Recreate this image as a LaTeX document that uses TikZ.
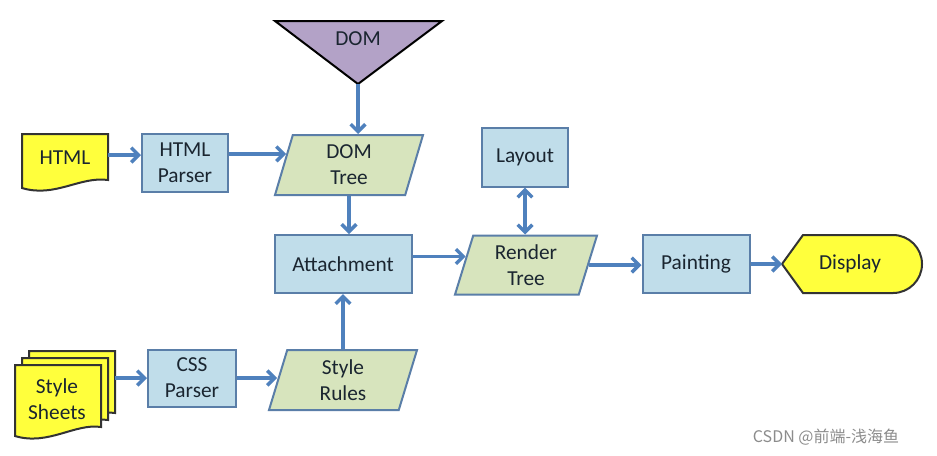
\documentclass[tikz,border=0pt]{standalone}
\usepackage{fontspec}
\setmainfont{Carlito}
\newfontfamily\cjkfont{Noto Sans CJK SC}
\usetikzlibrary{shapes.geometric,arrows.meta}
\newlength\pxl
\setlength\pxl{0.75pt}
\definecolor{boxfill}{HTML}{C0DDEA}
\definecolor{boxline}{HTML}{5A7EA8}
\definecolor{parfill}{HTML}{D7E4BD}
\definecolor{arrowc}{HTML}{4F81BD}
\definecolor{docfill}{HTML}{FFFF3C}
\definecolor{docline}{HTML}{333333}
\definecolor{trifill}{HTML}{B3A2C7}
\definecolor{txt}{HTML}{1A2530}
\tikzset{
  lbl/.style={font=\fontsize{16}{19.5}\selectfont, text=txt, align=center, inner sep=0pt},
  procbox/.style={lbl, rectangle, draw=boxline, fill=boxfill, line width=1.5pt},
  databox/.style={lbl, trapezium, trapezium left angle=66, trapezium right angle=114,
     trapezium stretches body, draw=boxline, fill=parfill, line width=1.5pt},
  docshape/.style={draw=docline, fill=docfill, line width=1.5pt},
  arr/.style={draw=arrowc, line width=2.6pt, -{Straight Barb[length=5.5pt,width=11pt]}},
  darr/.style={draw=arrowc, line width=2.6pt, {Straight Barb[length=5.5pt,width=11pt]}-{Straight Barb[length=5.5pt,width=11pt]}},
  ghost/.style={rectangle, draw=none, inner sep=0pt, outer sep=0pt}
}
\begin{document}
\begin{tikzpicture}[x=0.75pt,y=-0.75pt]
\useasboundingbox (0,0) rectangle (937,455);
\fill[white] (0,0) rectangle (937,455);

% DOM triangle
\draw[fill=trifill, draw=black, line width=1.5pt] (275,21) -- (442,21) -- (358,84) -- cycle;
\node[lbl] (dom) at (358,39) {DOM};
\coordinate (domtip) at (358,84);

% HTML document
\draw[docshape] (22,134) -- (108,134) -- (108,180) .. controls (80,176) and (55,198) .. (22,188) -- cycle;
\node[ghost, minimum width=86\pxl, minimum height=56\pxl] (html) at (65,160) {};
\node[lbl] (htmltext) at (65,158) {HTML};

% Style sheets (stacked)
\foreach \dx/\dy in {14/-14, 7/-7, 0/0}{
  \draw[docshape] (15+\dx,365+\dy) -- (101+\dx,365+\dy) -- (101+\dx,427+\dy)
     .. controls (75+\dx,423+\dy) and (48+\dx,446+\dy) .. (15+\dx,436+\dy) -- cycle;
}
\node[ghost, minimum width=100\pxl, minimum height=87\pxl] (ss) at (65,393) {};
\node[lbl] (sstext) at (57,399) {Style\\Sheets};

% process boxes
\node[procbox, minimum width=86\pxl, minimum height=58\pxl] (hp) at (185,163) {HTML\\Parser};
\node[procbox, minimum width=88\pxl, minimum height=57\pxl] (css) at (192,378) {CSS\\Parser};
\node[procbox, minimum width=137\pxl, minimum height=58\pxl] (att) at (343,264) {Attachment};
\node[procbox, minimum width=86\pxl, minimum height=59\pxl] (layout) at (525,157) {Layout};
\node[procbox, minimum width=107\pxl, minimum height=58\pxl] (paint) at (696,264) {Painting};

% parallelograms
\node[databox, minimum width=148\pxl, minimum height=60\pxl] (domtree) at (349,165) {DOM\\Tree};
\node[databox, minimum width=148\pxl, minimum height=60\pxl] (sr) at (343,380) {Style\\Rules};
\node[databox, minimum width=142\pxl, minimum height=59\pxl] (rt) at (526,265) {Render\\Tree};

% Display
\draw[docshape] (782,264) -- (803,235) -- (893,235) arc[start angle=-90, end angle=90, radius=29] -- (803,293) -- cycle;
\node[ghost, minimum width=140\pxl, minimum height=58\pxl] (display) at (852,264) {};
\node[lbl] (disptext) at (850,264) {Display};

% connectors
\draw[arr] (html.east |- 0,155) -- (hp.west |- 0,155);
\draw[arr] (hp.east |- domtree.170) -- (domtree.170);
\draw[arr] (domtip) -- (domtip |- domtree.north);
\draw[arr] (domtree.south) -- (domtree.south |- att.north);
\draw[arr] (sr.north) -- (sr.north |- att.south);
\draw[arr] (ss.east |- css.west) -- (css.west);
\draw[arr] (css.east) -- (sr.west |- css.east);
\draw[arr] (att.east |- rt.172) -- (rt.172);
\draw[darr] (layout.south) -- (layout.south |- rt.north);
\draw[arr] (rt.east) -- (rt.east -| paint.west);
\draw[arr] (paint.east) -- (display.west);

% watermark
\node[font=\cjkfont\fontsize{12}{14}\selectfont, text=black!45, inner sep=0pt] (wm) at (826,437) {CSDN @前端-浅海鱼};
\end{tikzpicture}
\end{document}
